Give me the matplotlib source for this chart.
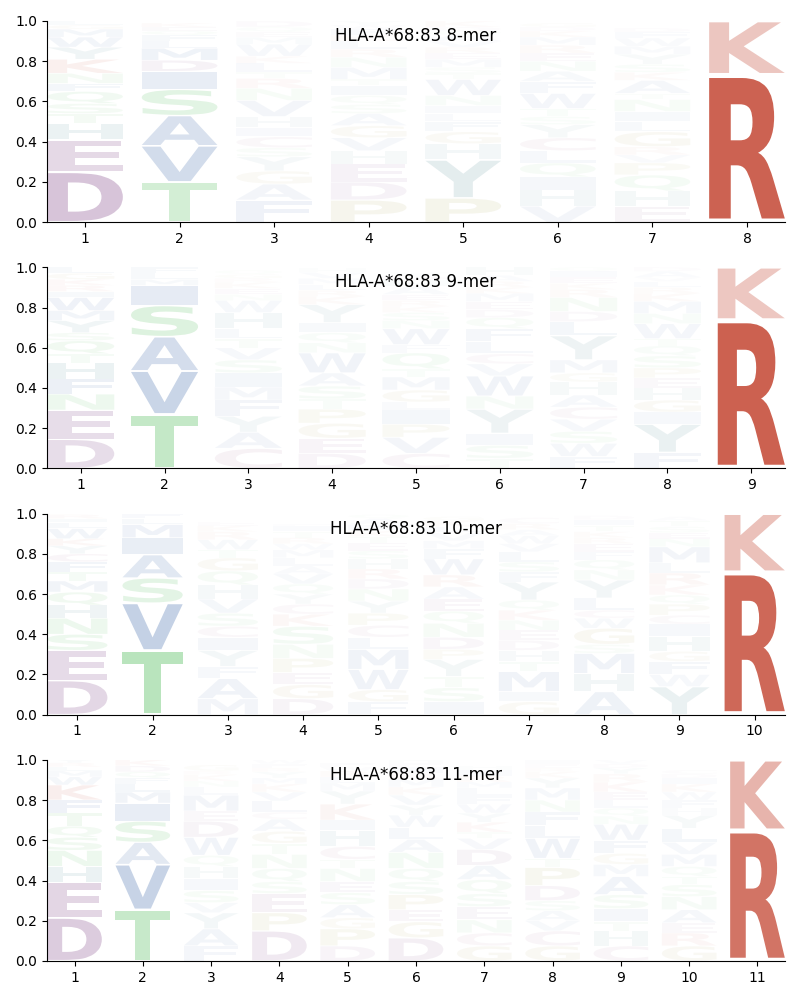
"""Peptide motif logos for HLA-A*68:83, one panel per peptide length (8-11)."""

import matplotlib

matplotlib.use("Agg")
import matplotlib.pyplot as plt
from matplotlib.font_manager import FontProperties
from matplotlib.patches import PathPatch
from matplotlib.textpath import TextPath
from matplotlib.transforms import Affine2D

ALLELE = "HLA-A*68:83"

# each position: letters listed bottom -> top, with their frequencies
MER8_LETTERS = [
    "DEHTSQFNKYWMGL", "TVASIDMLFQEK", "FAGYSCIHVNRTLKWMEQD", "PDEHVGASQITMNRLKFWY",
    "PYHGFLINWTSMERVAQDK", "VHIQLCYSTWFANERMKDG", "EHQPVRGLINTAKSYMWFD", "RK",
]
MER8_HEIGHTS = [
    [.25, .16, .08, .05, .05, .06, .04, .05, .07, .06, .05, .04, .02, .02],
    [.20, .18, .15, .13, .09, .055, .06, .035, .03, .02, .02, .02],
    [.11, .08, .065, .07, .045, .055, .045, .055, .08, .06, .05, .03, .045, .035, .06, .035, .025, .025, .03],
    [.11, .09, .09, .065, .065, .06, .06, .045, .045, .05, .03, .06, .05, .04, .04, .03, .03, .02, .02],
    [.12, .19, .08, .06, .05, .04, .04, .05, .08, .03, .03, .04, .03, .03, .03, .03, .02, .02, .03],
    [.08, .08, .065, .07, .06, .065, .065, .04, .04, .075, .06, .05, .05, .04, .04, .04, .03, .02, .02],
    [.08, .075, .08, .06, .04, .04, .075, .05, .05, .06, .03, .065, .04, .04, .05, .04, .04, .03, .02],
    [.735, .265],
]

MER9_LETTERS = [
    "DENFHTQSYMWIRKGL", "TVASIMLF", "CAYFMISVTLHWNEKRGQ", "DEGPTSAWNQIYKRLMVH",
    "CVPILGMTQFWNSKREAHDY", "TSIYNWVCLFQDEMKRAH", "FWSVCAHGMYLDNRKEIQ",
    "FYIGHEPSQTWNMKRLVAD", "RK",
]
MER9_HEIGHTS = [
    [.145, .145, .08, .075, .08, .045, .065, .04, .06, .05, .065, .03, .03, .03, .03, .03],
    [.27, .215, .17, .155, .10, .03, .03, .03],
    [.10, .08, .08, .08, .065, .07, .065, .06, .045, .05, .08, .06, .03, .03, .03, .02, .02, .02],
    [.075, .075, .075, .07, .05, .065, .065, .10, .05, .05, .05, .09, .04, .03, .03, .03, .03, .02],
    [.075, .08, .065, .07, .04, .06, .065, .04, .08, .04, .08, .04, .04, .03, .03, .03, .04, .03, .02, .02],
    [.05, .065, .06, .12, .065, .10, .06, .05, .06, .065, .055, .04, .04, .04, .03, .03, .03, .04],
    [.06, .065, .06, .06, .06, .06, .065, .045, .065, .12, .07, .05, .07, .04, .03, .03, .03, .02],
    [.08, .14, .06, .06, .06, .05, .05, .06, .05, .035, .075, .05, .06, .04, .03, .03, .02, .03, .02],
    [.74, .26],
]

MER10_LETTERS = [
    "DESNHQMTFCYKWLIR", "TVSAIMLF", "MAFYICSVHQGTWRKE", "DGEPNSKCYQVALMWRTIF",
    "FGWMLCPYNDRHSETKIAQ", "ISTYPDNQEARWFMVLKG", "GIMTHDENKQYFSLVWARC",
    "AHMSGWCLYNQFERKTID", "YWFGHICPQKRLMNESTA", "RK",
]
MER10_HEIGHTS = [
    [.17, .15, .08, .08, .065, .065, .055, .045, .05, .04, .04, .035, .05, .03, .02, .02],
    [.32, .235, .125, .115, .085, .065, .03, .025],
    [.08, .10, .06, .08, .065, .055, .065, .07, .07, .07, .065, .04, .05, .04, .03, .02],
    [.08, .07, .06, .07, .07, .09, .06, .05, .05, .05, .05, .04, .04, .04, .03, .03, .03, .03, .01],
    [.065, .06, .10, .10, .06, .06, .06, .06, .06, .05, .05, .05, .04, .04, .03, .03, .03, .03, .02],
    [.065, .07, .055, .085, .05, .06, .07, .06, .06, .06, .06, .08, .05, .04, .04, .03, .03, .02],
    [.065, .05, .10, .05, .055, .05, .05, .05, .05, .05, .09, .05, .05, .05, .04, .04, .03, .03, .03],
    [.115, .09, .10, .045, .08, .05, .04, .06, .09, .05, .05, .04, .04, .03, .03, .03, .03, .02],
    [.14, .06, .065, .05, .075, .06, .045, .055, .045, .05, .06, .05, .08, .04, .03, .03, .03, .02],
    [.71, .29],
]

MER11_LETTERS = [
    "DEHNSQTFKWMLRY", "TVASIMLFQDK", "FAYVSIHQWDEMLNKRG", "DPESQNTGACLVKMYRFW",
    "DPGASENTCHIKYMLRWF", "DGEPSQNALWYVKMRIFH", "GCNESQADVTKYWFLMRIH",
    "GCVASDPTWLFNMYKREI", "CHTISAMGFWNQLEKRYDV", "GREANSTQMVLYHFWKIDC", "RK",
]
MER11_HEIGHTS = [
    [.215, .175, .08, .08, .065, .055, .065, .065, .075, .04, .03, .02, .02, .02],
    [.255, .225, .11, .105, .09, .055, .04, .03, .03, .03, .03],
    [.075, .085, .08, .05, .06, .06, .06, .055, .09, .08, .05, .08, .04, .03, .03, .02, .03],
    [.15, .09, .095, .06, .065, .07, .055, .06, .06, .035, .055, .045, .04, .03, .03, .02, .02, .02],
    [.075, .085, .055, .065, .06, .055, .065, .045, .065, .08, .05, .08, .065, .04, .03, .03, .02, .02],
    [.115, .08, .06, .075, .065, .065, .08, .065, .06, .06, .05, .05, .04, .04, .03, .03, .02, .02],
    [.075, .065, .065, .065, .065, .07, .07, .08, .055, .03, .05, .045, .045, .04, .04, .03, .03, .03, .02],
    [.075, .075, .05, .05, .05, .075, .09, .045, .10, .065, .065, .06, .06, .05, .03, .02, .02, .02],
    [.075, .075, .045, .065, .07, .09, .06, .055, .065, .08, .04, .04, .04, .04, .05, .04, .03, .02, .02],
    [.075, .065, .05, .065, .065, .06, .04, .05, .06, .06, .07, .065, .035, .04, .04, .04, .03, .02, .02],
    [.65, .35],
]

PANELS = [
    ("8-mer", MER8_LETTERS, MER8_HEIGHTS),
    ("9-mer", MER9_LETTERS, MER9_HEIGHTS),
    ("10-mer", MER10_LETTERS, MER10_HEIGHTS),
    ("11-mer", MER11_LETTERS, MER11_HEIGHTS),
]

GROUP_COLORS = {
    "DE": "#89528f",
    "C": "#a05a88",
    "STNQ": "#5ec266",
    "AVILMFW": "#466fae",
    "KR": "#cc6150",
    "HY": "#4f8a92",
    "P": "#9a9632",
    "G": "#a8903e",
}
COLORS = {aa: c for grp, c in GROUP_COLORS.items() for aa in grp}

WIDTH = 0.8   # glyph width, in position units
VPAD = 0.05   # fraction of glyph height left blank (split top/bottom)
ANCHOR_ALPHA = 1.35   # opacity per unit height at positions 1, 2 and the C-terminus
OTHER_ALPHA = 0.8     # ... and at the unconstrained middle positions
FONT = FontProperties(family="DejaVu Sans", weight="bold")
_paths = {}


def _glyph(ch):
    if ch not in _paths:
        _paths[ch] = TextPath((0, 0), ch, size=1, prop=FONT)
    return _paths[ch]


def draw_letter(ax, ch, x, y0, h, alpha):
    path = _glyph(ch)
    bb = path.get_extents()
    pad = h * VPAD / 2
    tr = (Affine2D()
          .translate(-bb.x0, -bb.y0)
          .scale(WIDTH / bb.width, (h - 2 * pad) / bb.height)
          .translate(x - WIDTH / 2, y0 + pad))
    ax.add_patch(PathPatch(tr.transform_path(path), fc=COLORS[ch], ec="none", alpha=alpha))


def draw_logo(ax, title, letters, heights):
    n = len(letters)
    for pos, (seq, hs) in enumerate(zip(letters, heights), start=1):
        k = ANCHOR_ALPHA if pos in (1, 2, n) else OTHER_ALPHA
        y = 0.0
        for ch, h in zip(seq, hs):
            draw_letter(ax, ch, pos, y, h, min(1.0, h * k))
            y += h
    ax.set_xlim(1 - WIDTH / 2, n + WIDTH / 2)
    ax.set_ylim(0, 1)
    ax.set_xticks(range(1, n + 1))
    ax.set_yticks([0, 0.2, 0.4, 0.6, 0.8, 1.0])
    ax.spines["top"].set_visible(False)
    ax.spines["right"].set_visible(False)
    ax.text(0.5, 0.925, f"{ALLELE} {title}", transform=ax.transAxes,
            ha="center", va="center", fontsize=12)


def main():
    fig, axes = plt.subplots(4, 1, figsize=(8, 10), dpi=100)
    fig.subplots_adjust(left=0.059, right=0.981, top=0.979, bottom=0.039, hspace=0.224)
    for ax, (title, letters, heights) in zip(axes, PANELS):
        draw_logo(ax, title, letters, heights)
    fig.savefig("out.png")
    plt.close(fig)


if __name__ == "__main__":
    main()
